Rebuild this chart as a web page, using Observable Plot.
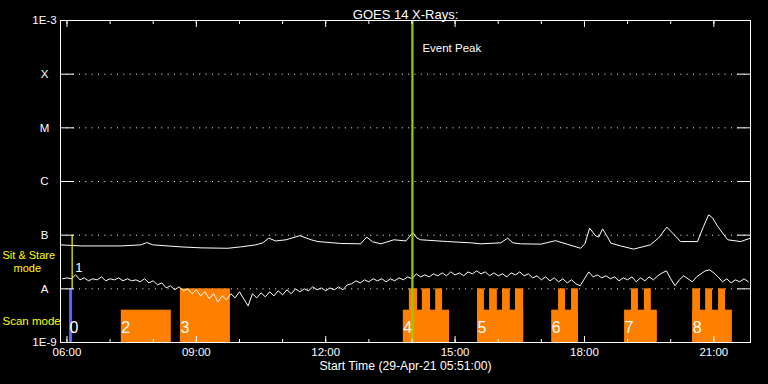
<!DOCTYPE html>
<html><head><meta charset="utf-8">
<script src="https://cdn.jsdelivr.net/npm/d3@7"></script>
<script src="https://cdn.jsdelivr.net/npm/@observablehq/plot@0.6"></script>
<style>
html,body{margin:0;padding:0;background:#000;}
svg{display:block;}
</style></head><body><div id="chart"></div>
<script>
// ---- texts ----
const title = "GOES 14 X-Rays:";
const xLabel = "Start Time (29-Apr-21 05:51:00)";
const eventLabel = "Event Peak";
const sitStareLabel1 = "Sit & Stare";
const sitStareLabel2 = "mode";
const scanModeLabel = "Scan mode";
const sitStareNumber = "1";

// ---- scales (time in decimal hours of 29-Apr-21, flux in W/m^2) ----
const timeDomain = [5.85, 21.85];
const fluxDomain = [1e-9, 1e-3];
const classTicks = [1e-3, 1e-4, 1e-5, 1e-6, 1e-7, 1e-8, 1e-9];
const classLabels = ["1E-3", "X", "M", "C", "B", "A", "1E-9"];
const gridTicks = [1e-4, 1e-5, 1e-6, 1e-7, 1e-8];
const hourTicks = [6,7,8,9,10,11,12,13,14,15,16,17,18,19,20,21];
const labelHours = [6, 9, 12, 15, 18, 21];
const hourLabels = ["06:00", "09:00", "12:00", "15:00", "18:00", "21:00"];

// ---- long channel (1-8 A), flux in units of 1e-8 W/m^2 ----
const longTimes = [5.85,6.32,6.79,7.25,7.72,7.85,7.99,8.64,9.11,9.73,10.03,10.38,10.54,10.68,10.84,11.08,11.40,11.66,11.82,12.35,12.81,12.95,13.09,13.28,13.58,13.86,14.02,14.11,14.20,14.83,15.36,15.60,16.06,16.22,16.34,16.52,16.99,17.33,17.57,17.91,18.01,18.12,18.26,18.33,18.42,18.52,18.61,18.84,19.14,19.53,19.72,19.91,20.04,20.23,20.62,20.76,20.88,20.97,21.09,21.32,21.62,21.85];
const longFluxE8 = [6.6,6.3,6.3,6.3,6.6,7.3,6.6,6.05,5.8,5.7,6.05,6.6,7.2,8.8,7.8,8.2,9.8,8.2,7.6,7.0,6.9,9.2,7.5,6.9,8.2,7.8,11.2,8.9,8.2,7.6,7.2,6.9,7.2,8.8,7.2,6.9,6.8,7.9,6.9,5.7,6.9,13.5,9.7,9.2,13.1,9.7,7.1,6.3,5.5,6.6,8.9,14.1,11.0,7.6,7.6,14.5,23.9,21.0,14.5,8.2,7.6,8.8];

// ---- short channel (0.5-4 A), flux in units of 1e-8 W/m^2 ----
const shortTimes = [5.9,6.0,6.1,6.2,6.3,6.4,6.5,6.6,6.7,6.8,6.9,7.0,7.1,7.2,7.3,7.4,7.5,7.6,7.7,7.8,7.9,8.0,8.1,8.2,8.3,8.4,8.5,8.6,8.7,8.8,8.9,9.0,9.1,9.2,9.3,9.4,9.5,9.6,9.7,9.8,9.9,10.0,10.1,10.2,10.3,10.4,10.5,10.6,10.7,10.8,10.9,11.0,11.1,11.2,11.3,11.4,11.5,11.6,11.7,11.8,11.9,12.0,12.1,12.2,12.3,12.4,12.5,12.6,12.7,12.8,12.9,13.0,13.1,13.2,13.3,13.4,13.5,13.6,13.7,13.8,13.9,14.0,14.1,14.2,14.3,14.4,14.5,14.6,14.7,14.8,14.9,15.0,15.1,15.2,15.3,15.4,15.5,15.6,15.7,15.8,15.9,16.0,16.1,16.2,16.3,16.4,16.5,16.6,16.7,16.8,16.9,17.0,17.1,17.2,17.3,17.4,17.5,17.6,17.7,17.8,17.9,18.0,18.1,18.2,18.3,18.4,18.5,18.6,18.7,18.8,18.9,19.0,19.1,19.2,19.3,19.4,19.5,19.6,19.7,19.8,19.9,20.0,20.1,20.2,20.3,20.4,20.5,20.6,20.7,20.8,20.9,21.0,21.1,21.2,21.3,21.4,21.5,21.6,21.7,21.8];
const shortFluxE8 = [
  1.54,1.60,1.54,1.82,1.47,1.60,1.41,1.54,1.47,1.67,1.41,
  1.54,1.47,1.60,1.41,1.54,1.41,1.47,1.35,1.54,1.29,
  1.41,1.19,1.29,1.04,1.14,0.96,1.09,0.92,1.00,0.81,
  0.96,0.74,0.88,0.65,0.81,0.57,0.74,0.62,0.81,0.68,
  0.88,0.65,0.48,0.81,0.68,0.84,0.71,0.88,0.74,0.92,
  0.77,0.96,0.81,1.00,0.88,1.00,0.92,1.09,0.96,1.04,
  0.92,1.04,0.96,1.09,0.96,1.19,1.24,1.41,1.29,1.47,
  1.35,1.54,1.41,1.54,1.35,1.54,1.41,1.60,1.47,1.67,
  1.54,1.90,1.67,1.82,1.67,1.90,1.75,1.98,1.75,2.07,
  1.82,1.98,1.75,2.07,1.90,2.16,1.90,2.07,1.75,1.98,
  1.75,1.90,1.67,1.98,1.82,2.07,1.75,1.90,1.60,1.75,
  1.47,1.67,1.41,1.60,1.35,1.54,1.29,1.47,1.24,1.14,
  1.54,2.07,1.67,1.82,1.60,1.75,1.54,1.67,1.41,1.60,
  1.47,1.67,1.35,1.60,1.41,1.67,1.47,1.75,1.98,2.16,
  1.54,1.14,1.47,1.75,1.54,1.35,1.67,1.90,2.16,2.26,
  1.98,1.67,1.35,1.54,1.29,1.47,1.35,1.54,1.35];
const fluxUnit = 1e-8;

// ---- observation modes ----
const sitStareTime = 6.12;
const sitStareRange = [1e-8, 1e-7];
const eventTime = 14.01;
const blueStart = [6.06];
const blueEnd = [6.13];
const blueTop = [1e-8];
const scanLabels = ["0", "2", "3", "4", "5", "6", "7", "8"];
const scanLabelTimes = [6.06, 7.26, 8.63, 13.80, 15.52, 17.24, 18.93, 20.51];
const blockStart = [7.26, 8.63, 13.80, 13.94, 14.24, 14.55, 15.52, 15.52, 15.80, 16.10, 16.40, 17.24, 17.40, 17.70, 18.93, 19.09, 19.39, 20.51, 20.51, 20.81, 21.11];
const blockEnd   = [8.42, 9.79, 14.87, 14.13, 14.43, 14.71, 16.59, 15.68, 15.98, 16.28, 16.59, 17.86, 17.56, 17.86, 19.69, 19.25, 19.55, 21.43, 20.69, 20.97, 21.27];
const blockTop   = [4e-9, 1e-8, 4e-9, 1e-8, 1e-8, 1e-8, 4e-9, 1e-8, 1e-8, 1e-8, 1e-8, 4e-9, 1e-8, 1e-8, 4e-9, 1e-8, 1e-8, 4e-9, 1e-8, 1e-8, 1e-8];

// ---- build tables ----
const longData = longTimes.map((t, i) => ({t, v: longFluxE8[i] * fluxUnit}));
const shortData = shortTimes.map((t, i) => ({t, v: shortFluxE8[i] * fluxUnit}));
const blocks = blockStart.map((a, i) => ({a, b: blockEnd[i], top: blockTop[i]}));
const blueBlocks = blueStart.map((a, i) => ({a, b: blueEnd[i], top: blueTop[i]}));
const majorHours = labelHours;

const WHITE = "#ffffff", ORANGE = "#ff8000", BLUE = "#6060ff", YELLOW = "#ffff00", GREEN = "#99cc00";
const FONT = "'Liberation Sans', Arial, sans-serif";

const chart = Plot.plot({
  width: 768,
  height: 384,
  marginLeft: 60,
  marginRight: 18,
  marginTop: 20,
  marginBottom: 42,
  style: {background: "#000", color: WHITE, fontFamily: FONT, fontSize: "11px"},
  x: {domain: timeDomain},
  y: {type: "log", domain: fluxDomain},
  marks: [
    Plot.gridY({ticks: gridTicks, stroke: WHITE, strokeOpacity: 1, strokeDasharray: "1,5.33"}),
    Plot.rect(blocks, {x1: "a", x2: "b", y1: () => fluxDomain[0], y2: "top", fill: ORANGE}),
    Plot.rect(blueBlocks, {x1: "a", x2: "b", y1: () => fluxDomain[0], y2: "top", fill: BLUE}),
    Plot.line(longData, {x: "t", y: "v", stroke: WHITE, strokeWidth: 1}),
    Plot.line(shortData, {x: "t", y: "v", stroke: WHITE, strokeWidth: 1}),
    Plot.ruleX([sitStareTime], {y1: () => sitStareRange[0], y2: () => sitStareRange[1], stroke: YELLOW, strokeWidth: 1.2}),
    Plot.ruleX([eventTime], {stroke: GREEN, strokeWidth: 2.2}),
    // axes ticks (inward)
    Plot.axisX({anchor: "bottom", ticks: hourTicks, tickSize: -3, tickFormat: () => "", label: null, stroke: WHITE}),
    Plot.axisX({anchor: "bottom", ticks: majorHours, tickSize: -6, tickFormat: () => "", label: null, stroke: WHITE}),
    Plot.axisX({anchor: "top", ticks: hourTicks, tickSize: -3, tickFormat: () => "", label: null, stroke: WHITE}),
    Plot.axisX({anchor: "top", ticks: majorHours, tickSize: -6, tickFormat: () => "", label: null, stroke: WHITE}),
    Plot.axisY({anchor: "left", ticks: gridTicks, tickSize: -14, tickFormat: () => "", label: null, stroke: WHITE}),
    Plot.axisY({anchor: "right", ticks: gridTicks, tickSize: -14, tickFormat: () => "", label: null, stroke: WHITE}),
    Plot.frame({stroke: WHITE}),
    // labels
    Plot.text(classTicks, {y: d => d, frameAnchor: "left", dx: -16, text: (d, i) => classLabels[i], textAnchor: "middle", fill: WHITE, fontSize: 11.5}),
    Plot.text(labelHours, {x: d => d, frameAnchor: "bottom", dy: 13, text: (d, i) => hourLabels[i], fill: WHITE, fontSize: 11.5}),
    Plot.text([xLabel], {frameAnchor: "bottom", dy: 27, fill: WHITE, fontSize: 12.2}),
    Plot.text([title], {frameAnchor: "top", dy: -11, fill: WHITE, fontSize: 13}),
    Plot.text([eventLabel], {x: () => eventTime, frameAnchor: "top", dx: 10, dy: 23, textAnchor: "start", fill: WHITE, fontSize: 11.5}),
    Plot.text(scanLabels, {x: (d, i) => scanLabelTimes[i], frameAnchor: "bottom", dx: 0, dy: -10, textAnchor: "start", fill: WHITE, fontSize: 16}),
    Plot.text([sitStareNumber], {x: () => sitStareTime, frameAnchor: "bottom", dx: 3, dy: -71, textAnchor: "start", fill: WHITE, fontSize: 13}),
    Plot.text([sitStareLabel1], {frameAnchor: "bottom-left", dx: -58, dy: -84, textAnchor: "start", fill: YELLOW, fontSize: 11}),
    Plot.text([sitStareLabel2], {frameAnchor: "bottom-left", dx: -47, dy: -71, textAnchor: "start", fill: YELLOW, fontSize: 11}),
    Plot.text([scanModeLabel], {frameAnchor: "bottom-left", dx: -58, dy: -18, textAnchor: "start", fill: YELLOW, fontSize: 11.5})
  ]
});
document.getElementById("chart").appendChild(chart);
</script>
</body></html>
